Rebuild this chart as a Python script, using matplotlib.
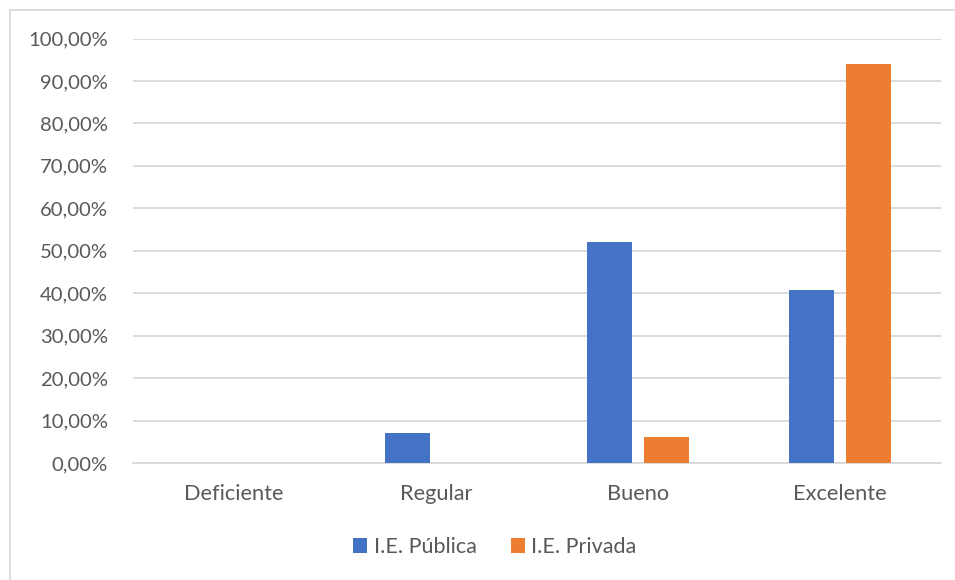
import matplotlib.pyplot as plt
import matplotlib.lines as mlines
import matplotlib.ticker as ticker
import numpy as np

plt.rcParams['font.family'] = ['Lato', 'DejaVu Sans']

CATEGORIES = ['Deficiente', 'Regular', 'Bueno', 'Excelente']
PUBLICA = [0.0, 7.05, 52.1, 40.85]
PRIVADA = [0.0, 0.0, 6.06, 93.94]
SERIES = [('I.E. Pública', PUBLICA, '#4472C4'), ('I.E. Privada', PRIVADA, '#ED7D31')]
TEXT_COLOR = '#595959'
GRID_COLOR = '#D9D9D9'

W, H = 955, 580
fig = plt.figure(figsize=(W / 100, H / 100), dpi=100)
ax = fig.add_axes([133 / W, 1 - 463 / H, 808 / W, (463 - 38.5) / H])

x = np.arange(len(CATEGORIES))
bw = 0.222
off = 0.141
for i, (label, vals, color) in enumerate(SERIES):
    ax.bar(x + (i * 2 - 1) * off, vals, width=bw, color=color, label=label, zorder=3)

ax.set_xlim(-0.5, len(CATEGORIES) - 0.5)
ax.set_ylim(0, 100)
ax.set_yticks(np.arange(0, 101, 10))
ax.yaxis.set_major_formatter(ticker.FuncFormatter(lambda v, p: f'{v:.2f}%'.replace('.', ',')))
ax.set_xticks(x)
ax.set_xticklabels(CATEGORIES)
ax.tick_params(axis='both', length=0, colors=TEXT_COLOR)
ax.tick_params(axis='y', pad=18, labelsize=14.6)
ax.tick_params(axis='x', pad=15, labelsize=15.7)
ax.grid(axis='y', color=GRID_COLOR, linewidth=1.3, zorder=0)
for s in ['top', 'right', 'left']:
    ax.spines[s].set_visible(False)
ax.spines['bottom'].set_color(GRID_COLOR)
ax.spines['bottom'].set_linewidth(1.3)

# outer chart frame (cut off on the right and bottom)
fig.add_artist(mlines.Line2D([10 / W, 10 / W], [0, 1 - 10 / H], color=GRID_COLOR, linewidth=1.3))
fig.add_artist(mlines.Line2D([10 / W, 1], [1 - 10 / H, 1 - 10 / H], color=GRID_COLOR, linewidth=1.3))

handles, labels = ax.get_legend_handles_labels()
fig.legend(handles, labels, loc='center', bbox_to_anchor=(495 / W, 1 - 547 / H), ncol=2,
           frameon=False, fontsize=15.5, labelcolor=TEXT_COLOR, handlelength=0.65,
           handleheight=0.65, handletextpad=0.3, columnspacing=1.6)

fig.savefig('out.png', dpi=100)
